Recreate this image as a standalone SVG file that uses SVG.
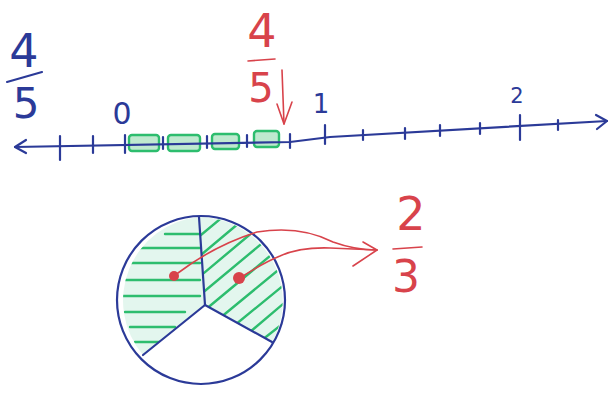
<svg xmlns="http://www.w3.org/2000/svg" width="612" height="394" viewBox="0 0 612 394">
<defs>
<style>
.blue{stroke:#2b3a98;fill:none;stroke-width:2.2;stroke-linecap:round;stroke-linejoin:round}
.red{stroke:#d8434b;fill:none;stroke-width:1.6;stroke-linecap:round;stroke-linejoin:round}
.green{stroke:#2dbd6e;fill:none;stroke-width:2.4;stroke-linecap:round}
.tb{font-family:"DejaVu Sans","Liberation Sans",sans-serif;fill:#2b3a98}
.tr{font-family:"DejaVu Sans","Liberation Sans",sans-serif;fill:#d8434b}
</style>
<clipPath id="left"><path d="M205,305 L199,217 A84,84 0 0 0 143,355 Z"/></clipPath>
<clipPath id="right"><path d="M205,305 L199,217 A84,84 0 0 1 272,342 Z"/></clipPath>
</defs>
<rect width="612" height="394" fill="#fff"/>

<g id="numberline">
<g id="segments" class="green">
<rect x="129" y="135" width="30" height="16" rx="3" fill="#bfe9cf"/>
<rect x="168" y="135" width="32" height="16" rx="3" fill="#bfe9cf"/>
<rect x="212" y="134" width="27" height="15" rx="3" fill="#bfe9cf"/>
<rect x="254" y="131" width="25" height="16" rx="3" fill="#bfe9cf"/>
</g>
<polyline class="blue" points="15,147 290,142 330,137 607,121"/>
<polyline class="blue" points="26,140 15,147 26,153"/>
<polyline class="blue" points="596,115 607,121 597,129"/>
<g class="blue">
<line x1="60" y1="136" x2="60" y2="160"/>
<line x1="93" y1="136" x2="93" y2="153"/>
<line x1="125" y1="135" x2="125" y2="153"/>
<line x1="163" y1="137" x2="163" y2="149"/>
<line x1="207" y1="136" x2="207" y2="148"/>
<line x1="247" y1="135" x2="247" y2="147"/>
<line x1="290" y1="134" x2="290" y2="148"/>
<line x1="325" y1="125" x2="325" y2="144"/>
<line x1="363" y1="130" x2="363" y2="140"/>
<line x1="405" y1="128" x2="405" y2="139"/>
<line x1="440" y1="125" x2="440" y2="136"/>
<line x1="480" y1="123" x2="480" y2="134"/>
<line x1="520" y1="115" x2="520" y2="140"/>
<line x1="558" y1="120" x2="558" y2="130"/>
</g>
<text class="tb" x="122" y="124" font-size="30" text-anchor="middle">0</text>
<text class="tb" x="321" y="113" font-size="26" text-anchor="middle">1</text>
<text class="tb" x="517" y="103" font-size="21" text-anchor="middle">2</text>
</g>

<g id="frac-blue">
<text class="tb" x="24" y="67" font-size="46" text-anchor="middle">4</text>
<line class="blue" x1="7" y1="82" x2="42" y2="72"/>
<text class="tb" x="26" y="118" font-size="42" text-anchor="middle">5</text>
</g>

<g id="frac-red">
<text class="tr" x="262" y="47" font-size="46" text-anchor="middle">4</text>
<line class="red" x1="248" y1="61" x2="275" y2="59"/>
<text class="tr" x="261" y="102" font-size="40" text-anchor="middle">5</text>
<path class="red" d="M282,70 L284,124" stroke-width="2.2"/>
<polyline class="red" points="277,104 284,124 292,102" stroke-width="2.2"/>
</g>

<g id="circle">
<rect x="110" y="210" width="200" height="200" fill="#e3f6ee" clip-path="url(#left)"/>
<rect x="110" y="210" width="200" height="200" fill="#e3f6ee" clip-path="url(#right)"/>
<g class="green" clip-path="url(#left)">
<line x1="165" y1="234" x2="200" y2="234"/>
<line x1="140" y1="248" x2="200" y2="248"/>
<line x1="125" y1="263" x2="200" y2="263"/>
<line x1="120" y1="280" x2="200" y2="280"/>
<line x1="122" y1="296" x2="200" y2="296"/>
<line x1="125" y1="312" x2="185" y2="312"/>
<line x1="130" y1="327" x2="175" y2="327"/>
<line x1="135" y1="342" x2="160" y2="342"/>
</g>
<g class="green" clip-path="url(#right)">
<line x1="195" y1="240" x2="225" y2="215"/>
<line x1="195" y1="260" x2="245" y2="218"/>
<line x1="198" y1="278" x2="260" y2="226"/>
<line x1="200" y1="295" x2="272" y2="235"/>
<line x1="205" y1="310" x2="282" y2="246"/>
<line x1="220" y1="318" x2="288" y2="262"/>
<line x1="235" y1="325" x2="290" y2="280"/>
<line x1="250" y1="332" x2="290" y2="298"/>
<line x1="262" y1="340" x2="290" y2="318"/>
</g>
<circle class="blue" cx="201" cy="300" r="84"/>
<line class="blue" x1="205" y1="305" x2="199" y2="217"/>
<line class="blue" x1="205" y1="305" x2="272" y2="342"/>
<line class="blue" x1="205" y1="305" x2="143" y2="355" stroke-width="4"/>
<circle cx="174" cy="276" r="5" fill="#d8434b"/>
<circle cx="239" cy="278" r="6" fill="#d8434b"/>
</g>

<g id="connectors">
<path class="red" d="M178,273 Q215,245 257,232 Q300,225 333,242 Q355,250 377,250"/>
<path class="red" d="M243,276 Q265,262 280,256 Q300,247 330,248 Q355,249 377,250"/>
<polyline class="red" points="363,242 377,250 353,266"/>
</g>

<g id="frac-23">
<text class="tr" x="411" y="230" font-size="46" text-anchor="middle">2</text>
<line class="red" x1="393" y1="249" x2="422" y2="247"/>
<text class="tr" x="406" y="292" font-size="44" text-anchor="middle">3</text>
</g>
</svg>
